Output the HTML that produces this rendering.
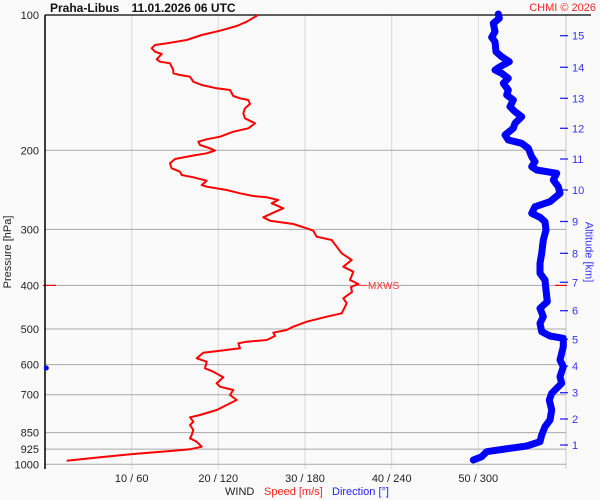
<!DOCTYPE html>
<html><head><meta charset="utf-8"><style>
html,body{margin:0;padding:0;background:#fafafa;}
svg{display:block;font-family:"Liberation Sans",sans-serif;}
</style></head><body>
<svg width="600" height="500" viewBox="0 0 600 500" xmlns="http://www.w3.org/2000/svg">
<rect x="0" y="0" width="600" height="500" fill="#fafafa"/>
<!-- vertical grid -->
<g stroke="#d8d8d8" stroke-width="1">
<line x1="131.7" y1="15" x2="131.7" y2="469"/>
<line x1="218.3" y1="15" x2="218.3" y2="469"/>
<line x1="305" y1="15" x2="305" y2="469"/>
<line x1="391.7" y1="15" x2="391.7" y2="469"/>
<line x1="478.3" y1="15" x2="478.3" y2="469"/>
<line x1="566" y1="15" x2="566" y2="469" stroke="#c8c8c8"/>
</g>
<!-- horizontal grid -->
<g stroke="#a8a8a8" stroke-width="1">
<line x1="45" y1="150.3" x2="566" y2="150.3"/>
<line x1="45" y1="229.4" x2="566" y2="229.4"/>
<line x1="45" y1="285.4" x2="566" y2="285.4"/>
<line x1="45" y1="329" x2="566" y2="329"/>
<line x1="45" y1="364.6" x2="566" y2="364.6"/>
<line x1="45" y1="394.7" x2="566" y2="394.7"/>
<line x1="45" y1="432.6" x2="566" y2="432.6"/>
<line x1="45" y1="449.1" x2="566" y2="449.1"/>
<line x1="45" y1="464.3" x2="566" y2="464.3"/>
</g>
<!-- red 400 markers -->
<line x1="43" y1="285.4" x2="56" y2="285.4" stroke="#e00" stroke-width="1.2"/>
<line x1="555" y1="285.4" x2="567" y2="285.4" stroke="#e00" stroke-width="1.2"/>
<!-- axes -->
<line x1="45" y1="15" x2="591" y2="15" stroke="#000" stroke-width="1.3"/>
<line x1="45" y1="15" x2="45" y2="469" stroke="#000" stroke-width="1.5"/>
<!-- left labels -->
<g font-size="11" fill="#222" text-anchor="end">
<text x="39" y="19">100</text>
<text x="39" y="154.3">200</text>
<text x="39" y="233.4">300</text>
<text x="39" y="289.4">400</text>
<text x="39" y="333">500</text>
<text x="39" y="368.6">600</text>
<text x="39" y="398.7">700</text>
<text x="39" y="436.6">850</text>
<text x="39" y="453.1">925</text>
<text x="39" y="468.3">1000</text>
</g>
<text transform="translate(11,252) rotate(-90)" font-size="11" fill="#222" text-anchor="middle">Pressure [hPa]</text>
<!-- bottom labels -->
<g font-size="11" fill="#222" text-anchor="middle">
<text x="131.7" y="482">10 / 60</text>
<text x="218.3" y="482">20 / 120</text>
<text x="305" y="482">30 / 180</text>
<text x="391.7" y="482">40 / 240</text>
<text x="478.3" y="482">50 / 300</text>
</g>
<text x="225" y="495" font-size="11" fill="#222">WIND</text>
<text x="264" y="495" font-size="11" fill="#f22">Speed [m/s]</text>
<text x="332" y="495" font-size="11" fill="#22f">Direction [°]</text>
<!-- title -->
<text x="50" y="12" font-size="12" font-weight="bold" fill="#111">Praha-Libus</text>
<text x="131.5" y="12" font-size="12" font-weight="bold" fill="#111">11.01.2026 06 UTC</text>
<text x="596" y="11" font-size="11" fill="#f22" text-anchor="end">CHMI © 2026</text>
<!-- right axis -->
<g stroke="#22f" stroke-width="1.3">
<line x1="560" y1="445" x2="568" y2="445"/>
<line x1="560" y1="419" x2="568" y2="419"/>
<line x1="560" y1="392.7" x2="568" y2="392.7"/>
<line x1="560" y1="366" x2="568" y2="366"/>
<line x1="560" y1="339.3" x2="568" y2="339.3"/>
<line x1="560" y1="310.7" x2="568" y2="310.7"/>
<line x1="560" y1="282.3" x2="568" y2="282.3"/>
<line x1="560" y1="253.3" x2="568" y2="253.3"/>
<line x1="560" y1="221.5" x2="568" y2="221.5"/>
<line x1="560" y1="190" x2="568" y2="190"/>
<line x1="560" y1="159" x2="568" y2="159"/>
<line x1="560" y1="128.3" x2="568" y2="128.3"/>
<line x1="560" y1="98.3" x2="568" y2="98.3"/>
<line x1="560" y1="67.3" x2="568" y2="67.3"/>
<line x1="560" y1="35.7" x2="568" y2="35.7"/>
</g>
<g font-size="11" fill="#33f">
<text x="572" y="449">1</text>
<text x="572" y="423">2</text>
<text x="572" y="396.7">3</text>
<text x="572" y="370">4</text>
<text x="572" y="343.3">5</text>
<text x="572" y="314.7">6</text>
<text x="572" y="286.3">7</text>
<text x="572" y="257.3">8</text>
<text x="572" y="225.5">9</text>
<text x="572" y="194">10</text>
<text x="572" y="163">11</text>
<text x="572" y="132.3">12</text>
<text x="572" y="102.3">13</text>
<text x="572" y="71.3">14</text>
<text x="572" y="39.7">15</text>
</g>
<text transform="translate(585.5,252) rotate(90)" font-size="11" fill="#33f" text-anchor="middle">Altitude [km]</text>
<!-- speed line -->
<polyline fill="none" stroke="#f00" stroke-width="2" stroke-linejoin="round" points="258,15 246.7,21.7 236.7,26 220,30.7 201.7,35 186.7,40 166.7,43.3 155,45 151.7,48.3 155,51.7 161.7,54 156.7,59.3 160,61.7 170,63.3 173.3,70 173.3,73.3 180,75 190,76.7 193.3,81.7 201.7,85 216.7,88.3 230,90 233.3,96 240,98.3 248.3,100 250,104 245,108.3 243.3,113.3 245,118.3 255,123.3 248.3,128.3 233.3,131.7 220,136.7 206.7,139.3 198.3,141.7 200,145 210,148.3 215,150.5 206.7,153.3 193.3,155.5 175,159 170,163.3 171.7,168.3 180,171.7 181.7,175 193.3,177.3 206.7,180.7 201.7,185 206.7,186.7 226.7,190 240,193.3 253.3,196 266.7,197.3 278.3,200 271.7,203.3 283.3,208.3 273.3,212.7 263.3,217.3 270,220.7 293.3,224 306.7,228.3 313.3,230.7 316.7,236.7 331.7,240 336.7,246.7 341.7,253.3 351.7,260 343.3,266.7 353.3,271.7 350,280 358.3,284 351,287 352,292 343.3,298.3 346.7,303.3 341.7,313.3 326.7,316.7 306.7,321.7 293.3,326.7 286.7,330 273.3,332.7 275,336 266.7,340 246.7,341.7 238.3,343.3 240,348.3 220,350.7 203.3,352.7 196.7,358.3 206.7,361.7 205,368.3 213.3,371.7 223.3,377.3 216.7,383.3 220,386.7 233.3,390 230,395 236.7,400 216.7,410 200,415 190,417.3 193.3,421.7 190,425 193.3,430 191.7,435 190,438.3 196.7,441.7 201.7,446.7 190,449.3 173.3,450.7 133.3,454 100,457.3 66.7,460.7"/>
<!-- MXWS -->
<line x1="358" y1="285.4" x2="367" y2="285.4" stroke="#f33" stroke-width="1"/>
<text x="368" y="289" font-size="10" fill="#f33">MXWS</text>
<!-- direction line -->
<polyline fill="none" stroke="#00f" stroke-width="7" stroke-linejoin="round" stroke-linecap="round" points="498.3,14 499.3,18.3 493.3,23.3 495,31.7 491.7,37.3 495,41.7 496,51.7 501.7,56.7 509.3,61.7 500,66.7 495,70 501.7,73.3 508.3,78.3 503.3,83.3 508.3,90 506.7,95 513.3,100 510,106.7 515,111.7 521.7,116.7 515,123.3 513.3,128.3 505,135 508.3,140 521.7,143.3 528.3,148.3 531.7,156.7 535,161.7 531.7,166.7 536.7,170 556.7,173.3 553.3,180 558.3,186.7 560,193.3 550,201.7 535,206.7 531.7,213.3 540,217.3 545,221.7 546,230 543.3,240 541.7,253.3 540,263.3 540,273.3 545,280 546,290 547.3,301.7 540,308.3 543.3,316.7 540,323.3 541.7,331.7 550,336 563.3,338.3 563.3,346.7 560,360 563.3,366.7 560,376.7 561.7,383.3 551.7,393.3 549.3,400 551.7,410 550,420 545,426.7 541.7,435 540,441.7 526.7,446 510,448.3 486.7,451.7 481.7,456.7 473.3,460"/>
<circle cx="46.3" cy="368" r="2.5" fill="#00f"/>
</svg>
</body></html>
